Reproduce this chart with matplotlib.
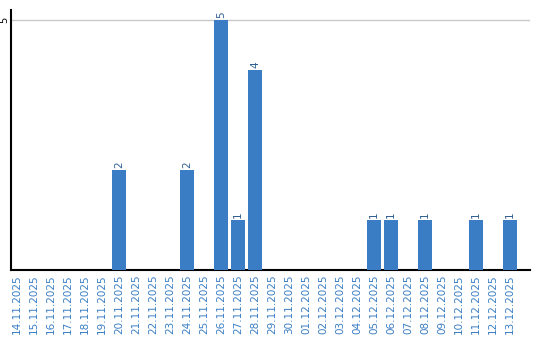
import matplotlib
matplotlib.use("Agg")
import matplotlib.pyplot as plt

dates = ["14.11.2025", "15.11.2025", "16.11.2025", "17.11.2025", "18.11.2025",
         "19.11.2025", "20.11.2025", "21.11.2025", "22.11.2025", "23.11.2025",
         "24.11.2025", "25.11.2025", "26.11.2025", "27.11.2025", "28.11.2025",
         "29.11.2025", "30.11.2025", "01.12.2025", "02.12.2025", "03.12.2025",
         "04.12.2025", "05.12.2025", "06.12.2025", "07.12.2025", "08.12.2025",
         "09.12.2025", "10.12.2025", "11.12.2025", "12.12.2025", "13.12.2025"]
values = [0, 0, 0, 0, 0, 0, 2, 0, 0, 0,
          2, 0, 5, 1, 4, 0, 0, 0, 0, 0,
          0, 1, 1, 0, 1, 0, 0, 1, 0, 1]
yticks = [5]

bar_color = "#3b7dc4"
label_color = "#3a7ec4"

fig = plt.figure(figsize=(5.4, 3.4), dpi=100)
ax = fig.add_axes([11/540, 70/340, 519/540, 260/340])

x = list(range(len(dates)))
bars = ax.bar(x, values, width=0.82, color=bar_color, zorder=3)
for xi, v in zip(x, values):
    if v > 0:
        ax.text(xi, v + 0.04, str(v), rotation=90, ha="center", va="bottom",
                fontsize=7.5, color="#2f5f95", zorder=4)

ax.set_xlim(-0.35, 30.18)
ax.set_ylim(0, 5.2)
ax.set_xticks(x)
ax.set_xticklabels(dates, rotation=90, fontsize=7.5, color=label_color)
ax.set_yticks(yticks)
ax.set_yticklabels([str(t) for t in yticks], rotation=90, fontsize=7, va="center")
ax.tick_params(axis="x", length=0, pad=3)
ax.tick_params(axis="y", length=0, pad=1)
ax.yaxis.grid(True, color="#c8c8c8", linewidth=1, zorder=0)
for s in ["top", "right"]:
    ax.spines[s].set_visible(False)
for s in ["left", "bottom"]:
    ax.spines[s].set_color("black")
    ax.spines[s].set_linewidth(1.5)

fig.savefig("out.png", dpi=100)
